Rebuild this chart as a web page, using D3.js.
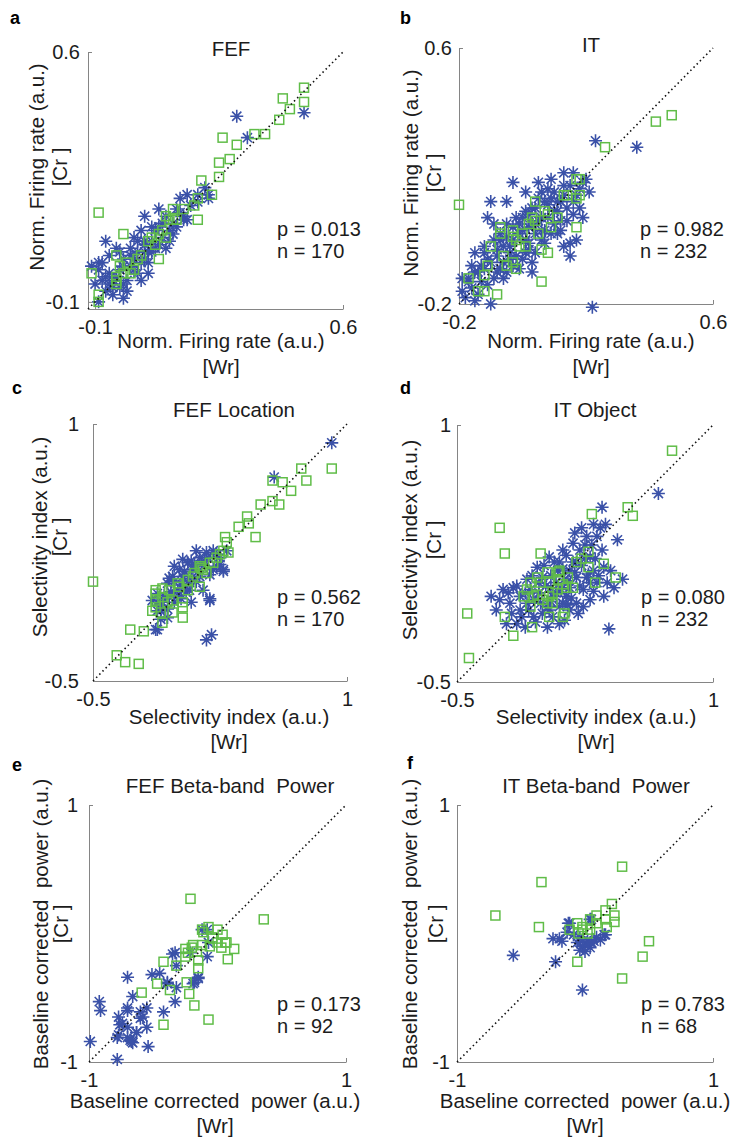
<!DOCTYPE html>
<html>
<head>
<meta charset="utf-8">
<script src="https://cdn.jsdelivr.net/npm/d3@7"></script>
<style>
  body { margin: 0; background: #fff; }
  svg { display: block; font-family: "Liberation Sans", Arial, Helvetica, sans-serif; }
</style>
</head>
<body>
<div id="chart"></div>
<script>
// ---- data ----
const panelLetters = ["a", "b", "c", "d", "e", "f"];
const panelTitles = ["FEF", "IT", "FEF Location", "IT Object", "FEF Beta-band  Power", "IT Beta-band  Power"];
const xLabelLines = [
    ["Norm. Firing rate (a.u.)", "[Wr]"], ["Norm. Firing rate (a.u.)", "[Wr]"],
    ["Selectivity index (a.u.)", "[Wr]"], ["Selectivity index (a.u.)", "[Wr]"],
    ["Baseline corrected  power (a.u.)", "[Wr]"], ["Baseline corrected  power (a.u.)", "[Wr]"]
];
const yLabelLines = [
    ["Norm. Firing rate (a.u.)", "[Cr ]"], ["Norm. Firing rate (a.u.)", "[Cr ]"],
    ["Selectivity index (a.u.)", "[Cr ]"], ["Selectivity index (a.u.)", "[Cr ]"],
    ["Baseline corrected  power (a.u.)", "[Cr ]"], ["Baseline corrected  power (a.u.)", "[Cr ]"]
];
const pValues = ["0.013", "0.982", "0.562", "0.080", "0.173", "0.783"];
const nValues = [170, 232, 170, 232, 92, 68];
const axisDomains = [[-0.12, 0.6], [-0.2, 0.6], [-0.5, 1], [-0.5, 1], [-1, 1], [-1, 1]];
const axisTicks = [[-0.1, 0.6], [-0.2, 0.6], [-0.5, 1], [-0.5, 1], [-1, 1], [-1, 1]];
const axisTickLabels = [["-0.1", "0.6"], ["-0.2", "0.6"], ["-0.5", "1"], ["-0.5", "1"], ["-1", "1"], ["-1", "1"]];

// [Wr, Cr] pairs; blue asterisks and green squares
const aBlue = [[0.30,0.42],[0.49,0.43],[0.33,0.36],[0.14,0.19],[0.16,0.20],[0.22,0.19],[0.08,0.16],[0.04,0.14],[0.15,0.14],[0.13,0.11],[0.15,0.13],[-0.07,0.07],[-0.04,0.05],[-0.09,0.01],[-0.11,0.00],[0.05,-0.02],[-0.02,-0.09],[-0.07,-0.07],[-0.09,-0.10],[-0.02,0.00],[-0.01,-0.04],[0.00,0.05],[0.02,0.04],[0.06,0.07],[0.09,0.08],[0.07,0.10],[0.10,0.05],[0.04,0.02],[0.01,-0.01],[-0.02,-0.05],[-0.04,-0.03],[-0.06,-0.02],[-0.08,0.01],[-0.09,-0.01],[-0.05,-0.06],[0.06,0.11],[0.12,0.09],[0.13,0.16],[0.10,0.14],[0.19,0.18],[0.00,0.00],[0.03,0.01],[-0.03,-0.01],[0.05,0.04],[0.07,0.05],[-0.05,-0.04],[0.02,-0.02],[0.04,0.06],[0.11,0.10],[0.08,0.11],[-0.02,0.02],[-0.06,-0.05],[0.00,0.03],[0.12,0.12],[0.14,0.15],[0.17,0.17],[0.19,0.20],[0.21,0.22],[0.16,0.13],[0.22,0.20],[0.04,0.07],[0.04,0.04],[-0.08,-0.04],[-0.06,0.03],[-0.05,-0.08],[-0.03,0.04],[-0.01,-0.07],[0.01,0.02],[0.02,0.07],[0.03,-0.04],[0.05,0.01],[0.06,0.04],[0.08,0.06],[0.09,0.12],[-0.10,-0.05],[-0.03,-0.06],[0.01,0.08],[0.11,0.07],[0.03,0.10],[-0.07,-0.03]];
const aGreen = [[0.49,0.50],[0.43,0.47],[0.49,0.46],[0.45,0.44],[0.42,0.41],[0.26,0.36],[0.35,0.37],[0.38,0.37],[0.30,0.34],[0.28,0.30],[0.25,0.29],[0.25,0.25],[0.20,0.24],[0.23,0.20],[0.19,0.19],[0.18,0.17],[0.19,0.13],[0.12,0.16],[0.15,0.16],[-0.09,0.15],[0.10,0.14],[0.12,0.13],[-0.02,0.09],[0.09,0.10],[0.08,0.09],[0.06,0.08],[0.08,0.02],[0.03,0.03],[-0.04,0.03],[-0.01,0.01],[0.00,-0.02],[-0.03,0.00],[-0.04,-0.03],[-0.11,-0.02],[-0.04,-0.05],[-0.09,-0.08],[-0.09,-0.10],[0.05,0.07],[0.02,0.02],[0.01,-0.01],[-0.02,-0.02],[-0.04,-0.04],[0.07,0.06],[0.10,0.08],[0.11,0.13],[0.13,0.13]];

const bBlue = [[0.23,0.31],[0.36,0.29],[0.22,-0.21],[-0.03,0.18],[-0.10,0.12],[-0.05,0.12],[-0.11,0.07],[-0.15,-0.04],[0.15,-0.05],[0.15,-0.01],[0.13,0.21],[0.16,0.21],[0.09,0.19],[0.15,0.17],[0.16,0.08],[0.12,0.03],[0.06,0.15],[0.05,0.13],[0.01,0.09],[-0.02,0.07],[-0.05,0.05],[-0.07,0.02],[-0.09,0.00],[-0.12,-0.04],[-0.13,-0.08],[-0.17,-0.13],[-0.14,-0.17],[-0.10,-0.20],[-0.19,-0.16],[0.03,-0.07],[-0.01,-0.09],[0.11,0.02],[0.06,0.00],[0.01,-0.04],[-0.04,-0.06],[-0.08,-0.10],[-0.06,-0.12],[0.11,0.09],[0.06,0.07],[0.02,0.04],[-0.01,0.02],[-0.06,-0.02],[-0.11,-0.06],[-0.14,-0.10],[-0.17,-0.12],[0.14,0.06],[0.09,0.13],[0.05,0.18],[0.01,0.15],[0.03,0.10],[0.00,0.03],[-0.03,0.00],[0.08,0.11],[0.10,0.05],[-0.08,-0.03],[0.04,0.02],[0.07,0.03],[-0.12,-0.09],[-0.04,-0.02],[0.12,0.12],[0.18,0.16],[0.20,0.19],[0.13,0.14],[-0.16,-0.08],[0.02,-0.03],[0.19,0.07],[0.17,0.00],[-0.16,-0.15],[-0.15,-0.10],[-0.13,-0.13],[-0.12,-0.02],[-0.11,-0.14],[-0.10,-0.07],[-0.09,-0.12],[-0.08,-0.05],[-0.07,-0.09],[-0.07,0.00],[-0.06,-0.07],[-0.05,-0.10],[-0.05,0.01],[-0.04,-0.04],[-0.03,-0.08],[-0.03,0.04],[-0.02,-0.05],[-0.01,0.05],[0.00,-0.06],[0.00,0.07],[0.01,0.00],[0.02,0.08],[0.02,-0.01],[0.03,0.05],[0.04,-0.04],[0.04,0.10],[0.05,0.06],[0.06,0.03],[0.07,0.12],[0.07,-0.01],[0.08,0.07],[0.09,0.02],[0.10,0.15],[0.10,0.09],[0.11,0.12],[0.12,0.06],[0.13,0.17],[0.14,0.10],[0.16,0.12],[0.17,0.14],[0.18,0.10],[0.19,0.18],[0.21,0.15],[0.08,0.16],[-0.18,-0.18],[-0.15,-0.19],[-0.19,-0.12],[0.03,-0.10],[0.13,-0.02],[-0.09,0.05]];
const bGreen = [[0.47,0.39],[0.42,0.37],[0.26,0.29],[0.18,0.19],[0.18,0.14],[0.17,0.13],[0.14,0.14],[-0.20,0.11],[0.17,0.04],[0.09,0.04],[0.11,0.07],[0.08,0.08],[0.04,0.12],[0.03,0.07],[0.06,-0.03],[0.08,-0.04],[0.06,-0.13],[-0.07,0.04],[-0.10,-0.02],[-0.06,-0.05],[-0.11,-0.08],[-0.12,-0.11],[-0.17,-0.12],[-0.14,-0.16],[-0.08,-0.17],[-0.03,0.03],[-0.02,0.00],[0.00,0.02],[0.01,-0.02],[-0.05,-0.08],[-0.03,-0.07],[0.05,0.02],[0.02,0.05],[-0.07,0.02],[0.07,0.09],[0.04,0.06],[-0.03,0.01],[-0.01,-0.02],[0.13,0.14],[0.17,0.19],[-0.02,-0.09],[-0.12,-0.16]];

const cBlue = [[0.91,0.89],[0.57,0.69],[0.19,-0.02],[0.17,-0.26],[0.20,-0.23],[0.08,-0.04],[-0.02,0.17],[-0.12,-0.20],[0.27,0.15],[0.23,0.17],[-0.06,-0.13],[-0.15,-0.03],[-0.12,-0.09],[-0.03,0.11],[0.01,0.15],[0.06,0.19],[0.13,0.22],[0.17,0.25],[0.21,0.26],[0.09,0.15],[0.13,0.11],[0.06,0.07],[0.00,0.03],[-0.05,-0.01],[-0.09,-0.04],[-0.10,-0.09],[0.21,0.15],[0.25,0.22],[0.29,0.26],[0.11,0.26],[0.03,0.11],[0.03,0.21],[-0.06,0.07],[-0.12,0.01],[0.15,0.03],[0.07,0.03],[-0.02,-0.04],[0.27,0.14],[0.19,-0.03],[-0.12,-0.04],[-0.10,-0.14],[-0.13,-0.20],[-0.10,-0.06],[-0.08,0.00],[-0.06,-0.08],[-0.04,0.02],[-0.02,0.08],[0.00,0.00],[0.02,0.06],[0.04,0.14],[0.05,0.02],[0.08,0.10],[0.10,0.18],[0.11,0.08],[0.14,0.18],[0.16,0.20],[0.18,0.22],[0.19,0.12],[0.23,0.24],[0.25,0.18],[0.08,0.20],[-0.05,0.10],[0.02,-0.02],[0.12,0.14]];
const cGreen = [[0.91,0.74],[0.73,0.74],[0.76,0.67],[0.62,0.66],[0.56,0.67],[0.67,0.61],[0.49,0.53],[0.56,0.55],[0.60,0.53],[0.41,0.46],[0.42,0.42],[0.36,0.40],[0.46,0.34],[0.28,0.34],[0.29,0.31],[0.30,0.25],[-0.50,0.08],[-0.28,-0.20],[-0.20,-0.21],[-0.36,-0.35],[-0.31,-0.39],[-0.23,-0.40],[0.03,-0.13],[-0.03,-0.10],[-0.09,-0.16],[-0.13,0.03],[-0.09,0.04],[-0.13,-0.03],[-0.15,-0.09],[0.13,0.05],[0.09,0.11],[0.15,0.15],[0.21,0.19],[0.25,0.24],[0.03,-0.04],[-0.03,-0.03],[0.06,0.03],[0.01,0.05],[0.13,0.17],[0.17,0.13],[-0.06,-0.04],[-0.13,0.01],[-0.09,-0.01],[-0.05,0.03],[0.00,0.07],[0.06,0.09],[0.10,0.13],[0.14,0.16],[0.19,0.19],[0.23,0.22],[0.27,0.26],[-0.13,-0.07],[-0.10,-0.10],[0.03,-0.07]];

const dBlue = [[0.68,0.60],[0.35,0.52],[0.37,0.42],[0.23,0.40],[0.44,0.33],[0.47,0.10],[0.39,-0.19],[-0.30,0.00],[-0.23,0.04],[-0.17,0.05],[-0.09,0.10],[-0.03,0.17],[0.04,0.23],[0.12,0.27],[0.18,0.31],[0.32,0.35],[0.34,0.40],[0.28,0.23],[0.36,0.17],[0.38,0.08],[0.36,0.00],[0.28,-0.02],[0.24,0.04],[0.20,-0.04],[0.16,-0.08],[0.10,-0.16],[0.03,-0.18],[-0.05,-0.12],[-0.15,-0.16],[-0.21,-0.16],[-0.13,-0.08],[-0.19,-0.04],[-0.09,-0.04],[-0.01,-0.04],[0.06,0.00],[0.14,0.00],[0.20,0.11],[0.16,0.15],[0.09,0.15],[0.00,0.11],[-0.07,0.04],[-0.13,0.00],[0.16,0.05],[0.26,0.11],[0.32,0.08],[0.22,0.27],[0.26,0.35],[0.04,-0.08],[0.12,-0.04],[0.28,0.08],[0.21,-0.10],[0.10,0.20],[0.05,0.05],[-0.02,0.08],[0.20,0.20],[0.30,0.15],[0.08,0.02],[0.25,0.30],[-0.05,-0.02],[0.13,0.10],[-0.25,-0.02],[-0.20,0.02],[-0.18,-0.10],[-0.15,0.06],[-0.12,-0.12],[-0.10,0.02],[-0.08,-0.08],[-0.06,0.12],[-0.04,-0.15],[-0.02,0.02],[0.00,-0.10],[0.01,0.18],[0.02,0.06],[0.03,-0.06],[0.05,0.12],[0.06,-0.12],[0.07,0.20],[0.08,0.08],[0.10,-0.06],[0.11,0.04],[0.12,0.16],[0.13,-0.14],[0.14,0.24],[0.15,0.09],[0.17,-0.01],[0.18,0.20],[0.19,0.14],[0.22,0.06],[0.23,0.18],[0.24,-0.06],[0.25,0.22],[0.27,0.13],[0.29,0.30],[0.30,0.03],[0.31,0.22],[0.33,0.12],[0.35,0.27],[0.40,0.15],[0.42,0.05],[0.30,0.42],[-0.10,-0.18],[-0.27,-0.08],[0.19,0.37],[0.15,-0.05],[0.05,-0.03]];
const dGreen = [[0.76,0.85],[0.50,0.52],[0.53,0.47],[0.29,0.48],[-0.25,0.40],[-0.22,0.25],[-0.01,0.25],[-0.44,-0.10],[-0.43,-0.36],[-0.22,-0.12],[-0.17,-0.23],[-0.06,-0.18],[0.04,-0.12],[0.12,-0.12],[0.13,-0.10],[0.43,0.11],[0.31,0.08],[0.36,0.19],[0.27,0.26],[0.27,0.17],[0.20,0.20],[0.23,0.22],[0.18,0.05],[0.12,0.07],[0.09,0.14],[0.03,0.14],[-0.03,0.11],[-0.09,0.04],[-0.05,0.00],[0.00,-0.02],[0.06,0.02],[0.09,0.04],[0.04,0.08],[0.10,0.10],[0.15,0.11],[-0.11,0.00],[0.03,-0.04],[-0.01,0.08],[0.06,-0.04],[0.10,0.15],[-0.07,0.08],[-0.03,0.01],[0.04,0.00],[0.14,0.05],[-0.07,-0.06]];

const eBlue = [[-0.12,0.03],[-0.07,-0.07],[-0.08,-0.18],[-0.15,-0.35],[-0.19,-0.39],[-0.35,-0.16],[-0.21,-0.15],[-0.45,-0.31],[-0.51,-0.32],[-0.70,-0.34],[-0.39,-0.39],[-0.32,-0.42],[-0.66,-0.49],[-0.92,-0.53],[-0.91,-0.60],[-0.70,-0.58],[-0.55,-0.58],[-0.42,-0.61],[-0.33,-0.53],[-0.77,-0.65],[-0.60,-0.66],[-0.76,-0.71],[-0.55,-0.73],[-0.63,-0.77],[-0.78,-0.81],[-0.68,-0.83],[-0.66,-0.85],[-0.54,-0.88],[-0.99,-0.84],[-0.78,-0.98],[-0.70,-0.73],[-0.08,0.03],[-0.33,-0.15],[-0.32,-0.25],[-0.18,-0.38],[-0.39,-0.38],[-0.74,-0.70],[-0.70,-0.60],[-0.60,-0.61],[-0.58,-0.65],[-0.63,-0.77],[-0.70,-0.81],[-0.77,-0.79],[-0.67,-0.84],[-0.15,-0.34]];
const eGreen = [[-0.21,0.27],[0.36,0.11],[-0.07,0.05],[-0.12,0.03],[0.00,0.03],[0.04,-0.01],[-0.04,-0.03],[0.07,-0.07],[0.13,-0.12],[0.08,-0.20],[0.03,-0.11],[-0.06,-0.10],[-0.12,-0.09],[-0.19,-0.09],[-0.25,-0.12],[-0.16,-0.14],[-0.15,-0.21],[-0.15,-0.27],[-0.32,-0.25],[-0.42,-0.22],[-0.25,-0.18],[-0.47,-0.39],[-0.37,-0.44],[-0.24,-0.38],[-0.22,-0.47],[-0.18,-0.56],[-0.59,-0.46],[-0.42,-0.71],[-0.07,-0.67],[-0.11,0.01],[-0.04,-0.04],[0.00,-0.07],[0.06,-0.07],[-0.20,-0.11],[-0.23,-0.15]];

const fBlue = [[-0.56,-0.17],[-0.23,-0.22],[-0.02,-0.44],[-0.25,-0.04],[-0.18,-0.06],[-0.12,0.08],[-0.14,0.01],[0.04,0.11],[0.16,-0.01],[-0.06,-0.07],[-0.02,-0.10],[0.04,-0.11],[0.02,-0.05],[0.09,-0.03],[-0.04,-0.03],[-0.09,-0.01],[0.05,-0.07],[0.00,-0.14],[-0.04,-0.13],[0.12,-0.05],[-0.13,0.08],[-0.20,-0.04],[0.05,0.11],[0.15,-0.01],[0.02,-0.09],[-0.02,-0.06],[0.07,-0.06]];
const fGreen = [[0.29,0.52],[-0.34,0.40],[-0.70,0.14],[-0.36,0.05],[0.21,0.23],[0.16,0.18],[0.23,0.14],[0.23,0.09],[0.16,0.11],[0.17,0.05],[0.09,0.14],[0.04,0.11],[0.09,0.08],[-0.02,0.05],[-0.06,0.08],[-0.12,0.03],[-0.05,0.00],[0.02,0.00],[-0.06,-0.22],[0.50,-0.06],[0.45,-0.18],[0.29,-0.35],[-0.02,0.03],[0.04,0.03]];

const blueSeries = [aBlue, bBlue, cBlue, dBlue, eBlue, fBlue];
const greenSeries = [aGreen, bGreen, cGreen, dGreen, eGreen, fGreen];

// ---- layout (pixels) ----
const frames = [
    { x0: 88, x1: 343, y0: 52, y1: 309 },
    { x0: 459, x1: 713, y0: 48, y1: 304 },
    { x0: 93, x1: 347, y0: 424, y1: 681 },
    { x0: 457, x1: 713, y0: 425, y1: 682 },
    { x0: 89, x1: 346, y0: 805, y1: 1062 },
    { x0: 457, x1: 713, y0: 805, y1: 1062 }
];
const yTickPad = [8, 7, 14, 6, 11, 7];
const letterPos = [[10, 24], [400, 24], [12, 394], [400, 394], [12, 771], [407, 769]];
const titlePos = [[231, 56], [591, 52], [234, 417], [595, 417], [230, 793], [596, 793]];
const statPos = [[277, 236], [640, 236], [277, 604], [641, 604], [277, 1011], [641, 1011]];
const xLabelPos = [[221, 348, 374], [591, 348, 374], [229, 724, 749], [596, 724, 749], [215, 1108, 1133], [585, 1108, 1133]];
const yLabelPos = [[44, 67, 167], [418, 441, 173], [47, 67, 537], [417, 441, 540], [48, 68, 924], [417, 443, 924]];

const W = 733, H = 1138;
const blue = "#3a51a8", green = "#60bd48", axisGray = "#858585", ink = "#1c1c1c";

const svg = d3.select("#chart").append("svg")
    .attr("width", W)
    .attr("height", H)
    .attr("viewBox", [0, 0, W, H]);

svg.append("rect").attr("width", W).attr("height", H).attr("fill", "#fff");

function asterisk(r) {
    const d = r * Math.SQRT1_2;
    return `M${-r},0H${r}M0,${-r}V${r}M${-d},${-d}L${d},${d}M${-d},${d}L${d},${-d}`;
}

panelLetters.forEach((letter, i) => {
    const f = frames[i];
    const g = svg.append("g");

    const x = d3.scaleLinear().domain(axisDomains[i]).range([f.x0, f.x1]);
    const y = d3.scaleLinear().domain(axisDomains[i]).range([f.y1, f.y0]);
    const fmt = v => axisTickLabels[i][axisTicks[i].indexOf(v)];

    const xAxis = g.append("g")
        .attr("transform", `translate(0,${f.y1})`)
        .call(d3.axisBottom(x).tickValues(axisTicks[i]).tickFormat(fmt)
            .tickSizeInner(-4).tickSizeOuter(0).tickPadding(11));
    const yAxis = g.append("g")
        .attr("transform", `translate(${f.x0},0)`)
        .call(d3.axisLeft(y).tickValues(axisTicks[i]).tickFormat(fmt)
            .tickSizeInner(-4).tickSizeOuter(0).tickPadding(yTickPad[i]));

    [xAxis, yAxis].forEach(ax => {
        ax.select(".domain").attr("stroke", axisGray).attr("stroke-width", 1);
        ax.selectAll(".tick line").attr("stroke", axisGray);
        ax.selectAll(".tick text")
            .attr("fill", ink)
            .attr("font-size", "20px")
            .attr("font-family", "Liberation Sans, Arial, sans-serif");
    });

    // blue asterisks
    g.append("g")
        .selectAll("path")
        .data(blueSeries[i])
        .join("path")
        .attr("transform", d => `translate(${x(d[0])},${y(d[1])})`)
        .attr("d", asterisk(6.5))
        .attr("fill", "none")
        .attr("stroke", blue)
        .attr("stroke-width", 1.6);

    // green squares
    g.append("g")
        .selectAll("rect")
        .data(greenSeries[i])
        .join("rect")
        .attr("x", d => x(d[0]) - 4.5)
        .attr("y", d => y(d[1]) - 4.5)
        .attr("width", 9)
        .attr("height", 9)
        .attr("fill", "none")
        .attr("stroke", green)
        .attr("stroke-width", 1.5);

    // identity line
    const dom = axisDomains[i];
    g.append("line")
        .attr("x1", x(dom[0])).attr("y1", y(dom[0]))
        .attr("x2", x(dom[1])).attr("y2", y(dom[1]))
        .attr("stroke", "#111")
        .attr("stroke-width", 1.6)
        .attr("stroke-dasharray", "1.5,3");

    // panel letter and title
    g.append("text")
        .attr("x", letterPos[i][0]).attr("y", letterPos[i][1])
        .attr("font-size", "18px").attr("font-weight", "bold").attr("fill", "#000")
        .text(letter);

    g.append("text")
        .attr("x", titlePos[i][0]).attr("y", titlePos[i][1])
        .attr("text-anchor", "middle")
        .attr("font-size", "20.5px").attr("fill", ink)
        .style("white-space", "pre")
        .text(panelTitles[i]);

    // stats
    g.append("text")
        .attr("x", statPos[i][0]).attr("y", statPos[i][1])
        .attr("font-size", "20px").attr("fill", ink)
        .text(`p = ${pValues[i]}`);
    g.append("text")
        .attr("x", statPos[i][0]).attr("y", statPos[i][1] + 21.5)
        .attr("font-size", "20px").attr("fill", ink)
        .text(`n = ${nValues[i]}`);

    // axis labels
    const xl = xLabelPos[i];
    xLabelLines[i].forEach((line, k) => {
        g.append("text")
            .attr("x", xl[0]).attr("y", xl[1 + k])
            .attr("text-anchor", "middle")
            .attr("font-size", "20.5px").attr("fill", ink)
            .style("white-space", "pre")
            .text(line);
    });

    const yl = yLabelPos[i];
    yLabelLines[i].forEach((line, k) => {
        g.append("text")
            .attr("transform", `translate(${yl[k]},${yl[2]}) rotate(-90)`)
            .attr("text-anchor", "middle")
            .attr("font-size", "20.5px").attr("fill", ink)
            .style("white-space", "pre")
            .text(line);
    });
});
</script>
</body>
</html>
